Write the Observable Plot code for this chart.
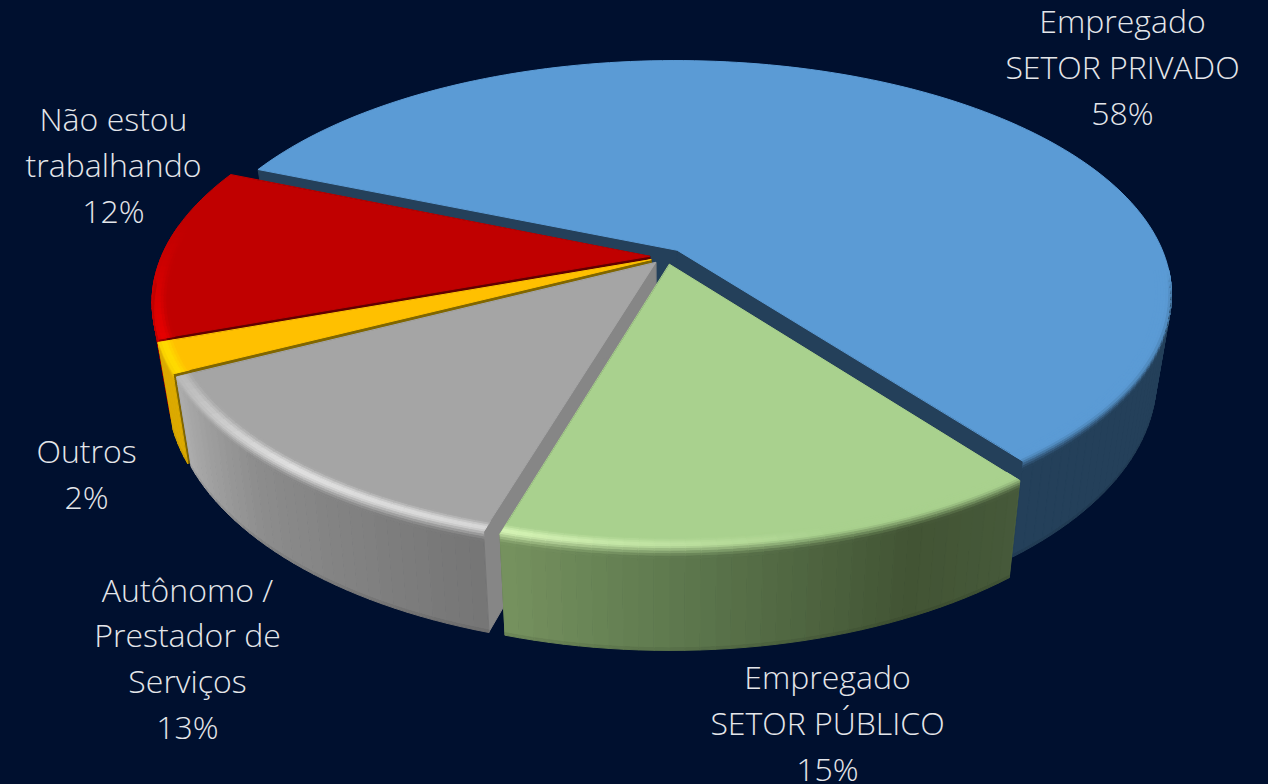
<!DOCTYPE html>
<html><head><meta charset="utf-8">
<script src="https://cdn.jsdelivr.net/npm/d3@7"></script>
<script src="https://cdn.jsdelivr.net/npm/@observablehq/plot@0.6"></script>
<style>html,body{margin:0;padding:0;background:#00102f;overflow:hidden}svg{display:block}</style>
</head><body><div id="chart"></div>
<script>
// Data
const sliceNames = ["Empregado\nSETOR PRIVADO","Empregado\nSETOR PÚBLICO","Autônomo /\nPrestador de\nServiços","Outros","Não estou\ntrabalhando"];
const sliceShares = [58.4,14.9,12.9,2,11.8];
// Styles
const topColors = ["#5b9bd5","#a9d18e","#a5a5a5","#ffc000","#c00000"];
const cutColors = ["#24405a","#5c7350","#868686","#806600","#600000"];
const wallStops = [["#24405a","#24405a"],["#46593a","#425434","#5f7a4f","#76925f"],["#757575","#8c8c8c","#adadad"],["#dcaa00","#dcaa00"],["#900000","#b00000"]];
const wallPositions = [[0,1],[0,.25,.7,1],[0,.6,1],[0,1],[0,1]];
const glowColors = ["#5b9bd5","#d6f4b6","#e2e2e2","#ffdb00","#e80000"];
const glowStrength = [[0,0],[0,0,1],[.85,1,.35],[1,1],[1,0,0]];
const glowPositions = [[0,1],[0,.4,1],[0,.5,1],[0,1],[0,.65,1]];
const paintOrder = [0,4,3,2,1];
// Label placement (centre of each text block)
const labelX = [1122,827,187,86,113];
const labelY = [64,720,655,471,162];
// Projection of the tilted disc
const cx=666, cy=256, Rx=488, Ry=227.5, persp=.188, depth=82, shrink=.03, burst=.035, startDeg=-67.4;
const rad = d=>d*Math.PI/180;
function project(u,v,z){const s=1/(1-persp*v);return [cx+Rx*u*s*(1-shrink*z), cy+Ry*v*s+depth*s*z];}
const polys=[]; let pid=0;
function add(pts,fill){const id=pid++;for(const p of pts)polys.push({id,x:p[0],y:p[1],fill});}
const smooth=(a,b,x)=>{const t=Math.max(0,Math.min(1,(x-a)/(b-a)));return t*t*(3-2*t);};

const starts=[];let acc=startDeg;
sliceShares.forEach(s=>{starts.push(acc);acc+=s*3.6;});
paintOrder.forEach(i=>{
  const a0=starts[i], a1=a0+sliceShares[i]*3.6;
  const mid=rad((a0+a1)/2), ox=burst*Math.sin(mid), oy=-burst*Math.cos(mid);
  const pt=(deg,r,z)=>project(ox+r*Math.sin(rad(deg)),oy-r*Math.cos(rad(deg)),z);
  const n=Math.max(4,Math.ceil((a1-a0)/1.5)), da=(a1-a0)/n;
  const wall=d3.scaleLinear().domain(wallPositions[i].map(p=>a0+p*(a1-a0))).range(wallStops[i]).interpolate(d3.interpolateRgb);
  const glow=d3.scaleLinear().domain(glowPositions[i].map(p=>a0+p*(a1-a0))).range(glowStrength[i]);
  const vis=deg=>smooth(.08,.24,-Math.cos(rad(deg)));
  // cut faces
  add([pt(a0,0,0),pt(a0,1,0),pt(a0,1,1),pt(a0,0,1)],cutColors[i]);
  add([pt(a1,0,0),pt(a1,1,0),pt(a1,1,1),pt(a1,0,1)],cutColors[i]);
  // outer wall
  for(let k=0;k<n;k++){const d0=a0+k*da,d1=d0+da,dm=d0+da/2;
    if(vis(dm)<=0)continue;
    add([pt(d0,1,.1),pt(d1,1,.1),pt(d1,1,.975),pt(d0,1,.975)],wall(dm));
    add([pt(d0,1,.975),pt(d1,1,.975),pt(d1,1,1),pt(d0,1,1)],d3.rgb(wall(dm)).darker(.2).formatHex());
  }
  // top face
  const top=[pt(a0,0,0)];
  for(let k=0;k<=n;k++)top.push(pt(a0+k*da,1,0));
  add(top,topColors[i]);
  // bevel: radial bands on the top then short bands on the wall
  const bands=10;
  for(let k=0;k<n;k++){const d0=a0+k*da,d1=d0+da,dm=d0+da/2,w=vis(dm);
    if(w<=0&&glow(dm)<=0)continue;
    const hi=d3.interpolateRgb(topColors[i],glowColors[i])(glow(dm)*(i==4?1:w));
    const wc=d3.interpolateRgb(topColors[i],wall(dm))(i==4?0:w);
    for(let b=0;b<bands;b++){
      const t0=b/bands,t1=(b+1)/bands,tm=(t0+t1)/2;
      const c=tm<.4?d3.interpolateRgb(topColors[i],hi)(smooth(0,.4,tm)):d3.interpolateRgb(hi,wc)(smooth(.4,1,tm));
      const loc=t=>t<.6?[.968+.032*t/.6,0]:[1,(t-.6)/.4*.1];
      const [r0,z0]=loc(t0),[r1,z1]=loc(t1);
      if(z1>0&&w<=0)continue;
      add([pt(d0,r0,z0),pt(d1,r0,z0),pt(d1,r1,z1),pt(d0,r1,z1)],c);
    }
  }
});

const labels=sliceNames.map((name,i)=>({text:`${name}\n${Math.round(sliceShares[i])}%`,x:labelX[i],y:labelY[i]}));
const fontSize=32;
const chart=Plot.plot({
  width:1268,height:784,margin:0,
  x:{domain:[0,1268],range:[0,1268],axis:null},
  y:{domain:[0,784],range:[0,784],axis:null},
  color:{type:"identity"},
  style:{background:"#00102f"},
  marks:[
    Plot.line(polys,{x:"x",y:"y",z:"id",fill:"fill",stroke:"fill",strokeWidth:1,curve:"linear-closed"}),
    Plot.text(labels,{x:"x",y:"y",text:"text",fill:"#e4e6ea",fontSize,fontFamily:"Open Sans",fontWeight:300,lineHeight:45.7/fontSize,textAnchor:"middle",lineAnchor:"middle"})
  ]
});
document.getElementById("chart").append(chart);
</script></body></html>
